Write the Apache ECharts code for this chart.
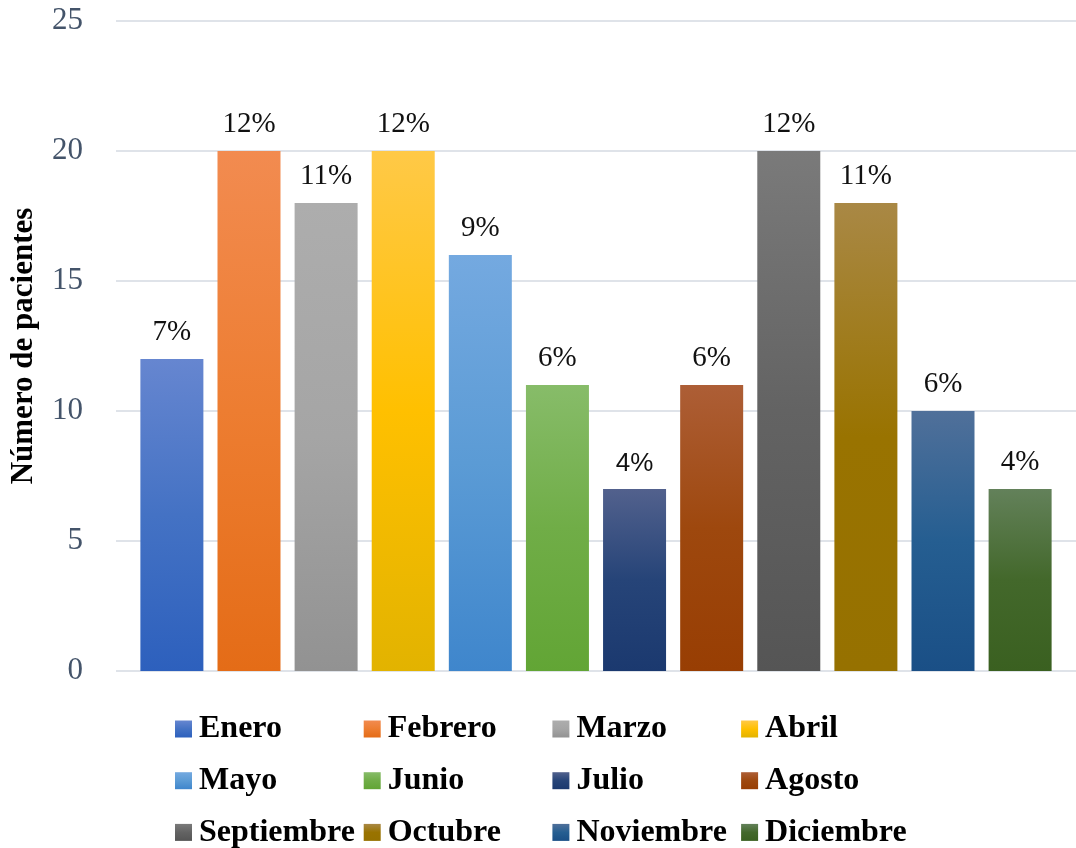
<!DOCTYPE html>
<html>
<head>
<meta charset="utf-8">
<script src="https://cdn.jsdelivr.net/npm/echarts@6/dist/echarts.min.js"></script>
<style>
  html, body { margin: 0; padding: 0; background: #fff; }
  #chart { width: 1076px; height: 848px; }
</style>
</head>
<body>
<div id="chart"></div>
<script>
// Patients per month
const months = ['Enero', 'Febrero', 'Marzo', 'Abril', 'Mayo', 'Junio',
                'Julio', 'Agosto', 'Septiembre', 'Octubre', 'Noviembre', 'Diciembre'];
const patients = [12, 20, 18, 20, 16, 11, 7, 11, 20, 18, 10, 7];
const yTicks = [0, 5, 10, 15, 20, 25];

// Gradient palette per month: top, middle, bottom
const palette = [
  ['#6686D0', '#4472C4', '#2D60BD'],
  ['#F28B50', '#ED7D31', '#E46C17'],
  ['#ADADAD', '#A5A5A5', '#929292'],
  ['#FFC947', '#FFC000', '#E2B300'],
  ['#74A9E0', '#5B9BD5', '#3F86CC'],
  ['#87BC69', '#70AD47', '#62A535'],
  ['#52618D', '#264478', '#1B396F'],
  ['#AD5E36', '#9E480E', '#983E03'],
  ['#7A7A7A', '#636363', '#555555'],
  ['#A98845', '#997300', '#967100'],
  ['#50709A', '#255E91', '#1A4F86'],
  ['#63815A', '#43682B', '#3A6020']
];

const serif = "'Times New Roman', 'Liberation Serif', 'DejaVu Serif', serif";
const total = patients.reduce((a, b) => a + b, 0);

const series = months.map((m, i) => ({
  name: m,
  type: 'bar',
  data: [patients[i]],
  barWidth: 63,
  barGap: '22.4%',
  itemStyle: {
    color: new echarts.graphic.LinearGradient(0, 0, 0, 1, [
      { offset: 0, color: palette[i][0] },
      { offset: 0.5, color: palette[i][1] },
      { offset: 1, color: palette[i][2] }
    ])
  },
  label: {
    show: true,
    position: 'top',
    distance: 12,
    color: '#111',
    fontFamily: m === 'Julio' ? "'Liberation Sans', Arial, sans-serif" : serif,
    fontSize: m === 'Julio' ? 26 : 29,
    formatter: p => Math.round(p.value / total * 100) + '%'
  }
}));

// Legend laid out as a 4 x 3 grid of single-entry legends
const legends = months.map((m, i) => ({
  data: [m],
  orient: 'horizontal',
  left: 175 + (i % 4) * 188.7,
  top: 713 + Math.floor(i / 4) * 51.7,
  padding: 0,
  itemWidth: 17,
  itemHeight: 17,
  icon: 'rect',
  selectedMode: false,
  textStyle: {
    fontFamily: serif,
    fontWeight: 'bold',
    fontSize: 32,
    color: '#000',
    padding: [0, 0, 0, 2]
  }
}));

const chart = echarts.init(document.getElementById('chart'));
chart.setOption({
  animation: false,
  backgroundColor: '#fff',
  grid: { left: 114, right: 0, top: 21, bottom: 177 },
  legend: legends,
  xAxis: {
    type: 'category',
    data: ['Pacientes'],
    axisLine: { show: false },
    axisTick: { show: false },
    axisLabel: { show: false }
  },
  yAxis: {
    type: 'value',
    min: yTicks[0],
    max: yTicks[yTicks.length - 1],
    interval: yTicks[1] - yTicks[0],
    name: 'Número de pacientes',
    nameLocation: 'middle',
    nameGap: 77,
    nameTextStyle: {
      fontFamily: serif,
      fontWeight: 'bold',
      fontSize: 31,
      color: '#000'
    },
    axisLine: { show: false },
    axisTick: { show: false },
    axisLabel: {
      margin: 33,
      fontFamily: serif,
      fontSize: 31,
      color: '#44546A'
    },
    splitLine: { lineStyle: { color: '#DFE3E9', width: 2 } }
  },
  series: series
});
</script>
</body>
</html>
